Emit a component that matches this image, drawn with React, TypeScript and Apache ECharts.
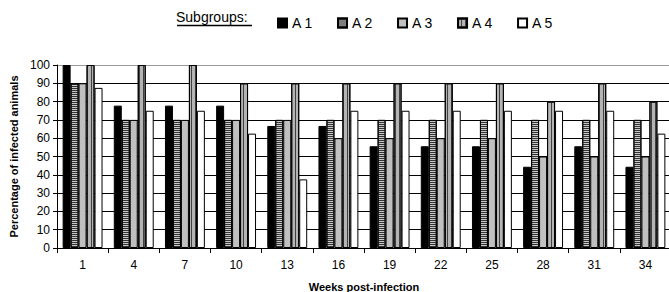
import React, { useEffect, useRef } from "react";
import * as echarts from "echarts";

const weeks = ["1", "4", "7", "10", "13", "16", "19", "22", "25", "28", "31", "34"];
const seriesNames = ["A 1", "A 2", "A 3", "A 4", "A 5"];
const a1 = [100, 77.8, 77.8, 77.8, 66.7, 66.7, 55.6, 55.6, 55.6, 44.4, 55.6, 44.4];
const a2 = [90, 70, 70, 70, 70, 70, 70, 70, 70, 70, 70, 70];
const a3 = [90, 70, 70, 70, 70, 60, 60, 60, 60, 50, 50, 50];
const a4 = [100, 100, 100, 90, 90, 90, 90, 90, 90, 80, 90, 80];
const a5 = [87.5, 75, 75, 62.5, 37.5, 75, 75, 75, 75, 75, 75, 62.5];
const yTicks = { min: 0, max: 100, interval: 10 };

const FONT = "Arial, 'Liberation Sans', sans-serif";

export default function App() {
  const ref = useRef<HTMLDivElement>(null);
  useEffect(() => {
    document.body.style.margin = "0";
    if (!ref.current) return;
    const chart = echarts.init(ref.current, null, { renderer: "svg" });
    const border = { borderColor: "#000", borderWidth: 1 };
    const styles = [
      { color: "#000000", ...border },
      {
        color: "#c8c8c8",
        ...border,
        decal: { symbol: "rect", symbolSize: 1, dashArrayX: [1, 0], dashArrayY: [1, 1], rotation: 0, color: "#333333" },
      },
      { color: "#c0c0c0", ...border },
      {
        color: "#b4b4b4",
        ...border,
        decal: { symbol: "rect", symbolSize: 1, dashArrayX: [1, 0], dashArrayY: [1, 3], rotation: Math.PI / 2, color: "#404040" },
      },
      { color: "#ffffff", ...border },
    ];
    const data = [a1, a2, a3, a4, a5];
    const splitColors = Array.from({ length: 11 }, (_, i) => (i === 10 ? "#9a9a9a" : "#000"));
    chart.setOption({
      animation: false,
      textStyle: { fontFamily: FONT },
      title: {
        text: "Subgroups:",
        left: 176,
        top: 10,
        padding: 0,
        textStyle: { fontSize: 14, fontWeight: "normal", color: "#000", fontFamily: FONT },
      },
      graphic: [
        { type: "line", shape: { x1: 177, y1: 25.5, x2: 252, y2: 25.5 }, style: { stroke: "#000", lineWidth: 1.5 } },
      ],
      legend: {
        data: seriesNames,
        left: 277,
        top: 16,
        padding: 0,
        icon: "rect",
        itemWidth: 9,
        itemHeight: 9,
        itemGap: 24,
        textStyle: { fontSize: 14, color: "#000", fontFamily: FONT },
      },
      grid: { left: 57, top: 65, width: 614, height: 183, containLabel: false, outerBoundsMode: "none" },
      xAxis: {
        type: "category",
        data: weeks,
        name: "Weeks post-infection",
        nameLocation: "middle",
        nameGap: 33,
        nameTextStyle: { fontSize: 11, fontWeight: "bold", color: "#000", fontFamily: FONT },
        axisLine: { show: true, lineStyle: { color: "#000", width: 1 } },
        axisTick: { show: true, length: 5, lineStyle: { color: "#000" } },
        axisLabel: { fontSize: 12, color: "#000", margin: 11, fontFamily: FONT },
      },
      yAxis: {
        type: "value",
        min: yTicks.min,
        max: yTicks.max,
        interval: yTicks.interval,
        name: "Percentage of infected animals",
        nameLocation: "middle",
        nameGap: 33,
        nameTextStyle: { fontSize: 11, fontWeight: "bold", color: "#000", fontFamily: FONT },
        axisLine: { show: true, lineStyle: { color: "#000", width: 1 } },
        axisTick: { show: true, length: 4, lineStyle: { color: "#000" } },
        axisLabel: { fontSize: 12, color: "#000", margin: 7, fontFamily: FONT },
        splitLine: { show: true, lineStyle: { color: splitColors, width: 1 } },
      },
      series: seriesNames.map((name, i) => ({
        name,
        type: "bar",
        data: data[i],
        barGap: "0%",
        barCategoryGap: "22%",
        itemStyle: styles[i],
        emphasis: { disabled: true },
      })),
    });
    return () => chart.dispose();
  }, []);
  return <div ref={ref} style={{ width: 669, height: 292 }} />;
}
